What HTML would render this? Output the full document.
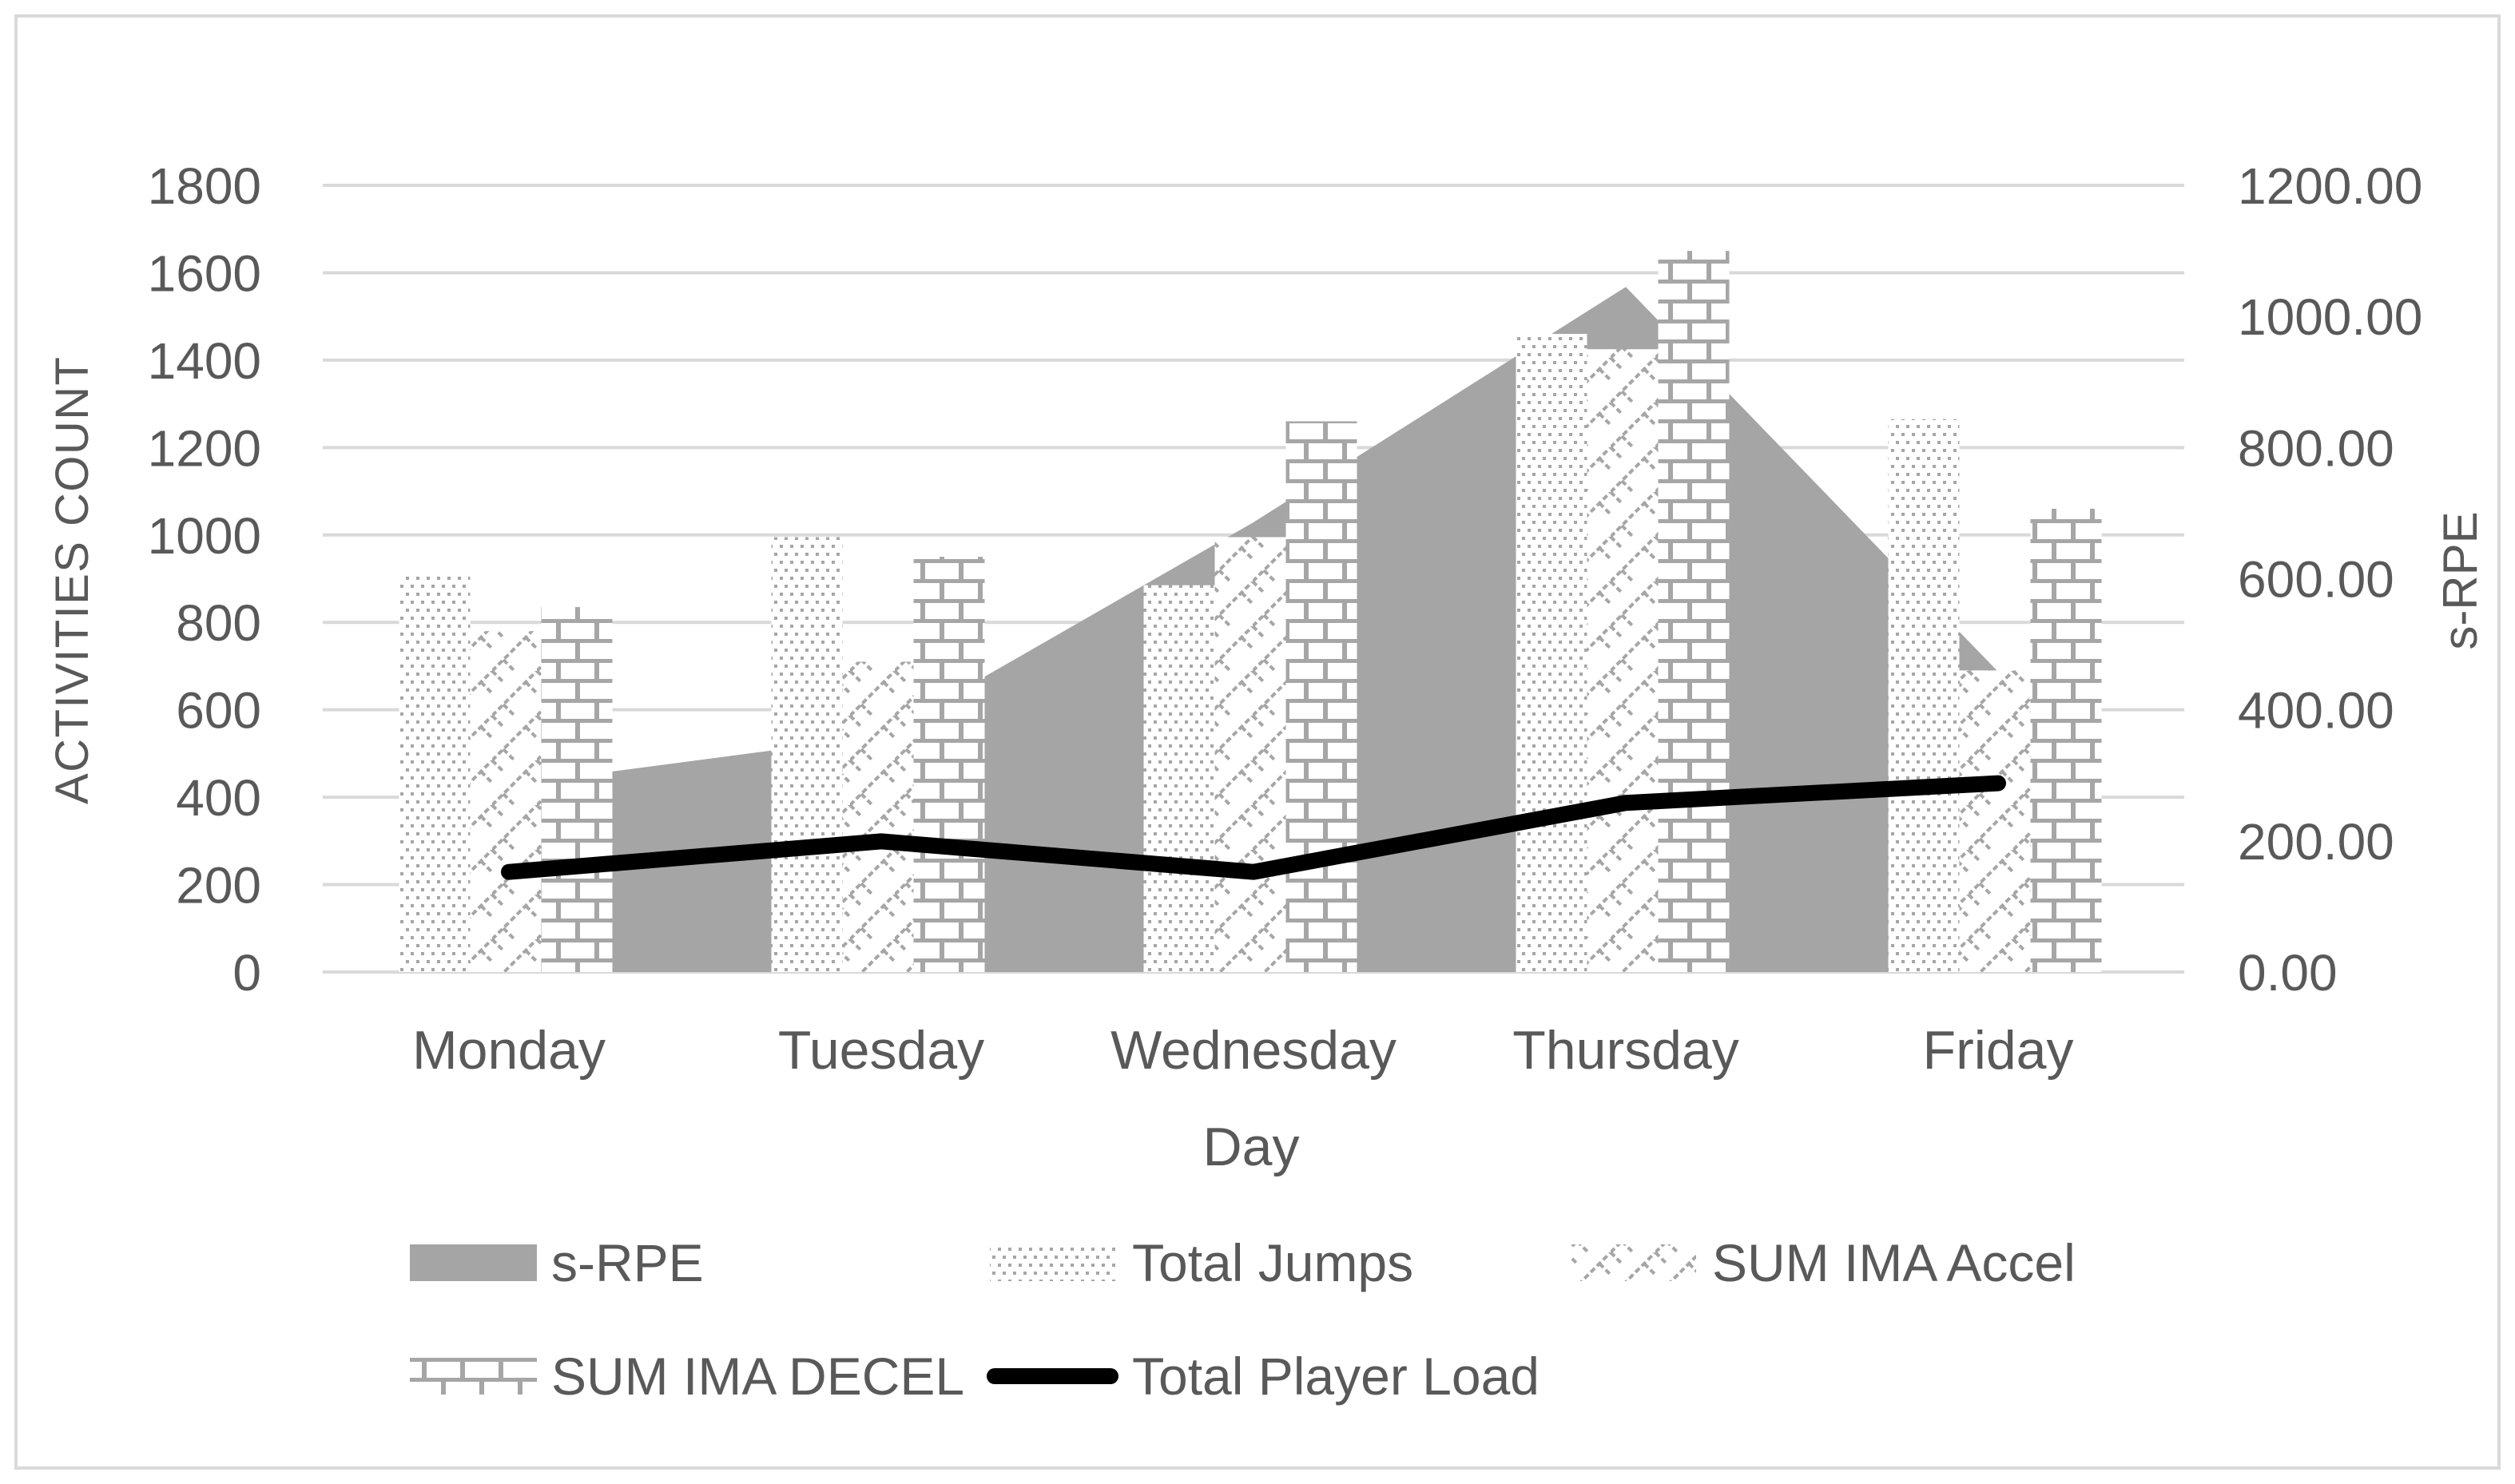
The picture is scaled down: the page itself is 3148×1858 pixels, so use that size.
<!DOCTYPE html>
<html><head><meta charset="utf-8">
<style>
html,body{margin:0;padding:0;background:#fff;}
svg{display:block;}
text{font-family:"Liberation Sans",sans-serif;fill:#595959;}
</style></head>
<body>
<svg id="chart" width="3148" height="1858" viewBox="0 0 3148 1858" xmlns="http://www.w3.org/2000/svg">
<defs>
<pattern id="pDots" patternUnits="userSpaceOnUse" width="13" height="20">
<rect x="0" y="0" width="13" height="20" fill="#fff"/>
<rect x="1" y="2" width="4" height="4" fill="#a6a6a6"/>
<rect x="7" y="12" width="4" height="4" fill="#a6a6a6"/>
</pattern>
<pattern id="pZig" patternUnits="userSpaceOnUse" width="56" height="56">
<rect width="56" height="56" fill="#fff"/>
<path d="M0,56 L56,0 M-14,14 L14,-14 M42,70 L70,42" stroke="#a6a6a6" stroke-width="4" stroke-dasharray="7,4"/>
<path d="M14,42 L28,56 M42,14 L56,28 M0,0 L14,14" stroke="#a6a6a6" stroke-width="4" stroke-dasharray="7,4"/>
</pattern>
<pattern id="pBrick" patternUnits="userSpaceOnUse" width="48" height="50">
<rect width="48" height="50" fill="#fff"/>
<rect x="0" y="0" width="48" height="5" fill="#a6a6a6"/>
<rect x="0" y="25" width="48" height="5" fill="#a6a6a6"/>
<rect x="0" y="0" width="6" height="25" fill="#a6a6a6"/>
<rect x="24" y="25" width="6" height="25" fill="#a6a6a6"/>
</pattern>
</defs>
<rect x="20" y="20" width="3108" height="1818" fill="#fff" stroke="#d9d9d9" stroke-width="4"/>
<g id="grid"></g>
<g id="area"></g>
<g id="bars"></g>
<g id="line"></g>
<g id="labels"></g>
<text x="1566" y="1459" font-size="68" text-anchor="middle">Day</text>
<text x="0" y="0" font-size="58" text-anchor="middle" transform="translate(110,727) rotate(-90)" textLength="560">ACTIVITIES COUNT</text>
<text x="0" y="0" font-size="60" text-anchor="middle" transform="translate(3100,727) rotate(-90)">s-RPE</text>
<g>
<g><rect x="513" y="1558" width="159" height="46" fill="#a5a5a5"/><text x="690" y="1604" font-size="66">s-RPE</text></g>
<g><rect x="1239" y="1558" width="158" height="46" fill="url(#pDots)"/><text x="1417" y="1604" font-size="66">Total Jumps</text></g>
<g><rect x="1966" y="1558" width="157" height="46" fill="url(#pZig)"/><text x="2143" y="1604" font-size="66">SUM IMA Accel</text></g>
<g><rect x="513" y="1700" width="159" height="46" fill="url(#pBrick)"/><text x="690" y="1746" font-size="66">SUM IMA DECEL</text></g>
<g><line x1="1245" y1="1723" x2="1390" y2="1723" stroke="#000" stroke-width="20" stroke-linecap="round"/><text x="1417" y="1746" font-size="66">Total Player Load</text></g>
</g>
</svg>
<script>
const categories = ["Monday","Tuesday","Wednesday","Thursday","Friday"];
const totalJumps = [910, 995, 885, 1460, 1265];
const sumAccel = [780, 710, 995, 1425, 690];
const sumDecel = [835, 950, 1260, 1650, 1060];
const sRPE = [285, 360, 686, 1045, 458];
const playerLoad = [229, 299, 229, 387, 432];
const leftTicks = ["0","200","400","600","800","1000","1200","1400","1600","1800"];
const rightTicks = ["0.00","200.00","400.00","600.00","800.00","1000.00","1200.00"];

const NS = "http://www.w3.org/2000/svg";
const X0 = 404, X1 = 2734, Y0 = 1217, Y1 = 232;
const catW = (X1 - X0) / categories.length;
const xc = i => X0 + catW * (i + 0.5);
const yL = v => Y0 - (v / 1800) * (Y0 - Y1);
const yR = v => Y0 - (v / 1200) * (Y0 - Y1);
function mk(tag, attrs, parent) {
  const e = document.createElementNS(NS, tag);
  for (const k in attrs) e.setAttribute(k, attrs[k]);
  document.getElementById(parent).appendChild(e);
  return e;
}
leftTicks.forEach((t, i) => {
  const v = i * 200;
  const g = mk("line", {x1: X0, x2: X1, y1: yL(v), y2: yL(v), stroke: "#d9d9d9", "stroke-width": 4}, "grid");
  
  
  const tx = mk("text", {x: 327, y: yL(v) + 23, "font-size": 64, "text-anchor": "end"}, "labels");
  tx.textContent = t;
  
  
});
rightTicks.forEach((t, i) => {
  const v = i * 200;
  const tx = mk("text", {x: 2801, y: yR(v) + 23, "font-size": 64}, "labels");
  tx.textContent = t;
  
  
});
categories.forEach((c, i) => {
  const tx = mk("text", {x: xc(i), y: 1338, "font-size": 68, "text-anchor": "middle"}, "labels");
  tx.textContent = c;
  
  
});
let d = "M" + xc(0) + "," + Y0;
sRPE.forEach((v, i) => { d += " L" + xc(i) + "," + yR(v); });
d += " L" + xc(sRPE.length - 1) + "," + Y0 + " Z";
const ar = mk("path", {d: d, fill: "#a5a5a5"}, "area");


const bw = 89;
const series = [[totalJumps, "url(#pDots)", "bar-total-jumps"], [sumAccel, "url(#pZig)", "bar-sum-accel"], [sumDecel, "url(#pBrick)", "bar-sum-decel"]];
categories.forEach((c, i) => {
  series.forEach((s, j) => {
    const x = xc(i) - 1.5 * bw + j * bw - 4;
    const y = yL(s[0][i]);
    const r = mk("rect", {x: x, y: y, width: bw, height: Y0 - y, fill: s[1]}, "bars");
    
    
  });
});
const pts = playerLoad.map((v, i) => xc(i) + "," + yL(v)).join(" ");
const pl = mk("polyline", {points: pts, fill: "none", stroke: "#000", "stroke-width": 20, "stroke-linecap": "round", "stroke-linejoin": "round"}, "line");


</script>
</body></html>
